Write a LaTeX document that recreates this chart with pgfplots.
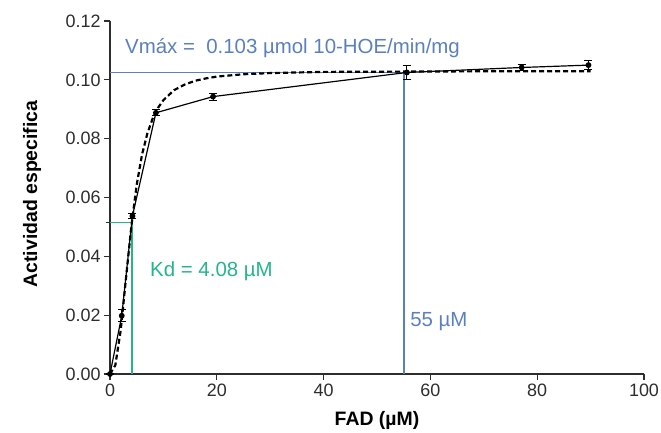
\documentclass[border=0pt]{standalone}
\usepackage{pgfplots}
\pgfplotsset{compat=1.18}
\usepackage{fontspec}
\setmainfont{Liberation Sans}
\definecolor{vblue}{RGB}{90,128,192}
\definecolor{kgreen}{RGB}{35,182,138}
\definecolor{axgray}{RGB}{45,45,45}
\begin{document}
\begin{tikzpicture}
\useasboundingbox (-110bp,-59bp) rectangle (551bp,374bp);
\begin{axis}[
  at={(0,0)}, anchor=south west,
  scale only axis, width=534bp, height=353bp,
  xmin=0, xmax=100, ymin=0, ymax=0.12,
  clip=false,
  axis lines*=left,
  axis line style={axgray, line width=1.4pt, -},
  tick style={axgray, line width=1.2pt},
  tick align=outside, major tick length=6bp,
  xtick={0,20,40,60,80,100},
  ytick={0,0.02,0.04,0.06,0.08,0.10,0.12},
  extra y ticks={0.0515}, extra y tick labels={},
  extra y tick style={major tick length=4bp},
  /pgf/number format/assume math mode=true,
  yticklabel style={/pgf/number format/fixed, /pgf/number format/fixed zerofill, /pgf/number format/precision=2},
  ticklabel style={font=\fontsize{18}{20}\selectfont, text=axgray},
  xlabel={FAD (µM)},
  ylabel={Actividad especifica},
  label style={font=\fontsize{19.5}{22}\selectfont\bfseries, text=black},
  xlabel style={at={(axis description cs:0.5,-0.133)}, anchor=center},
  ylabel style={at={(axis description cs:-0.146,0.51)}, anchor=center},
]
% Kd guide lines
\addplot[kgreen, line width=1.8pt] coordinates {(0,0.0515) (4.08,0.0515) (4.08,0)};
% Vmax guide lines
\addplot[vblue, line width=1.8pt] coordinates {(0,0.1025) (55,0.1025) (55,0)};
% fitted curve
\addplot[black, line width=2.2pt, dash pattern=on 5bp off 3bp] coordinates {
(0,0) (1,0.003) (2,0.0148) (3,0.0326) (4,0.0502) (5,0.0643) (6,0.0746) (7,0.0818)
(8,0.0869) (9,0.0905) (10,0.0931) (12,0.0965) (14,0.0984) (16,0.0997) (18,0.1005)
(20,0.1011) (25,0.1019) (30,0.1023) (40,0.1027) (55,0.1028) (70,0.1029) (90,0.1029)};
% experimental data
\addplot[black, line width=1.2pt, mark=*, mark size=2.3bp,
  error bars/.cd, y dir=both, y explicit,
  error bar style={line width=1.1pt},
  error mark options={rotate=90, mark size=4bp, line width=1.1pt}]
  coordinates {
  (0,0) +- (0,0)
  (2.2,0.0198) +- (0,0.002)
  (4.2,0.0537) +- (0,0.0008)
  (8.6,0.0888) +- (0,0.001)
  (19.3,0.0943) +- (0,0.0012)
  (55.6,0.1025) +- (0,0.0025)
  (77.1,0.1042) +- (0,0.001)
  (89.6,0.1050) +- (0,0.0016)
  };
\node[anchor=west, text=vblue, font=\fontsize{20.5}{23}\selectfont, inner sep=0pt] at (axis cs:2.8,0.1108) {Vmáx =\ \ 0.103 µmol 10-HOE/min/mg};
\node[anchor=west, text=kgreen, font=\fontsize{20.5}{23}\selectfont, inner sep=0pt] at (axis cs:7.5,0.0350) {Kd = 4.08 µM};
\node[anchor=west, text=vblue, font=\fontsize{20.5}{23}\selectfont, inner sep=0pt] at (axis cs:56.2,0.0177) {55 µM};
\end{axis}
\end{tikzpicture}
\end{document}
